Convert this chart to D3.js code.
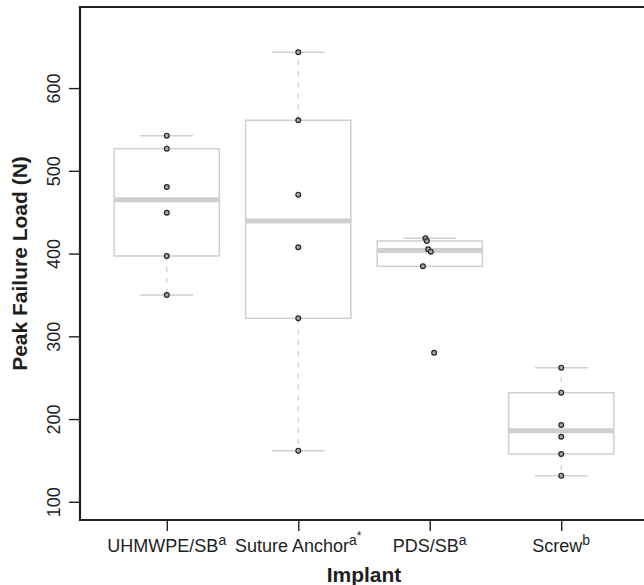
<!DOCTYPE html>
<html>
<head>
<meta charset="utf-8">
<script src="https://cdn.jsdelivr.net/npm/d3@7"></script>
<style>
  html, body { margin: 0; padding: 0; background: #fff; }
  svg { display: block; }
  text { font-family: "Liberation Sans", Arial, Helvetica, sans-serif; fill: #1e1e1e; }
</style>
</head>
<body>
<svg id="chart" width="644" height="585"></svg>
<script>
// ---- data ----
const categories   = ["UHMWPE/SB", "Suture Anchor", "PDS/SB", "Screw"];
const supLetters   = ["a", "a", "a", "b"];
const supMarks     = ["", "*", "", ""];
const uhmwpeValues = [542.5, 526.8, 480.5, 449.4, 397.1, 349.9];
const sutureValues = [643.3, 561.1, 471.2, 407.6, 321.8, 161.8];
const pdsValues    = [418.5, 415.2, 405.2, 402.3, 384.6, 280.2];
const screwValues  = [262.1, 231.9, 192.8, 178.7, 157.8, 131.6];
// horizontal jitter of the points, in category units
const uhmwpeJitter = [0, 0, 0, 0, 0, 0];
const sutureJitter = [0, 0, 0, 0, 0, 0];
const pdsJitter    = [-0.033, -0.022, -0.012, 0.008, -0.052, 0.033];
const screwJitter  = [0, 0, 0, 0, 0, 0];
const yTicks       = [100, 200, 300, 400, 500, 600];
const yLimits      = [78, 698];
const xLimits      = [0.34, 4.66];
const xTitle = "Implant";
const yTitle = "Peak Failure Load (N)";

const groups = [
  { values: uhmwpeValues, jitter: uhmwpeJitter },
  { values: sutureValues, jitter: sutureJitter },
  { values: pdsValues,    jitter: pdsJitter },
  { values: screwValues,  jitter: screwJitter }
];

// R-style fivenum and boxplot stats
function fivenum(arr) {
  const s = arr.slice().sort((a, b) => a - b);
  const n = s.length;
  const n4 = Math.floor((n + 3) / 2) / 2;
  const d = [1, n4, (n + 1) / 2, n + 1 - n4, n];
  return d.map(v => 0.5 * (s[Math.floor(v) - 1] + s[Math.ceil(v) - 1]));
}
function boxStats(arr) {
  const f = fivenum(arr);
  const iqr = f[3] - f[1];
  const lo = f[1] - 1.5 * iqr, hi = f[3] + 1.5 * iqr;
  const inside = arr.filter(v => v >= lo && v <= hi);
  return { q1: f[1], med: f[2], q3: f[3], wlo: d3.min(inside), whi: d3.max(inside) };
}

// ---- layout ----
const svg = d3.select("#chart");
const plotLeft = 80, plotRight = 648, plotTop = 7, plotBottom = 520;

const x = d3.scaleLinear().domain(xLimits).range([plotLeft, plotRight]);
const y = d3.scaleLinear().domain(yLimits).range([plotBottom, plotTop]);

const boxHalf = 0.4, capHalf = 0.2;
const grey = "#cfcfcf";

const g = svg.append("g");

groups.forEach((grp, i) => {
  const c = i + 1;
  const st = boxStats(grp.values);
  // whiskers (dashed)
  g.append("line")
    .attr("x1", x(c)).attr("x2", x(c))
    .attr("y1", y(st.q3)).attr("y2", y(st.whi))
    .attr("stroke", grey).attr("stroke-width", 1.3).attr("stroke-dasharray", "5,6");
  g.append("line")
    .attr("x1", x(c)).attr("x2", x(c))
    .attr("y1", y(st.q1)).attr("y2", y(st.wlo))
    .attr("stroke", grey).attr("stroke-width", 1.3).attr("stroke-dasharray", "5,6");
  // caps
  [st.whi, st.wlo].forEach(v => {
    g.append("line")
      .attr("x1", x(c - capHalf)).attr("x2", x(c + capHalf))
      .attr("y1", y(v)).attr("y2", y(v))
      .attr("stroke", grey).attr("stroke-width", 1.5);
  });
  // box
  g.append("rect")
    .attr("x", x(c - boxHalf)).attr("width", x(c + boxHalf) - x(c - boxHalf))
    .attr("y", y(st.q3)).attr("height", y(st.q1) - y(st.q3))
    .attr("fill", "#fff").attr("stroke", grey).attr("stroke-width", 1.5);
  // median
  g.append("line")
    .attr("x1", x(c - boxHalf)).attr("x2", x(c + boxHalf))
    .attr("y1", y(st.med)).attr("y2", y(st.med))
    .attr("stroke", grey).attr("stroke-width", 5);
});

// points
groups.forEach((grp, i) => {
  const c = i + 1;
  g.selectAll(null)
    .data(grp.values.map((v, k) => ({ v, j: grp.jitter[k] })))
    .enter().append("circle")
    .attr("cx", d => x(c + d.j))
    .attr("cy", d => y(d.v))
    .attr("r", 2.4)
    .attr("fill", "#a8a8a8")
    .attr("stroke", "#262626")
    .attr("stroke-width", 1.2);
});

// frame (left, bottom, top)
const frame = svg.append("g").attr("stroke", "#222").attr("stroke-width", 2.2).attr("stroke-linecap", "square");
frame.append("line").attr("x1", plotLeft).attr("x2", plotLeft).attr("y1", plotTop).attr("y2", plotBottom);
frame.append("line").attr("x1", plotLeft).attr("x2", plotRight).attr("y1", plotBottom).attr("y2", plotBottom);
frame.append("line").attr("x1", plotLeft).attr("x2", plotRight).attr("y1", plotTop).attr("y2", plotTop);

// y axis
const yAxis = d3.axisLeft(y).tickValues(yTicks).tickSize(11).tickFormat(d3.format("d"));
const ya = svg.append("g").attr("transform", `translate(${plotLeft},0)`).call(yAxis);
ya.select(".domain").remove();
ya.selectAll(".tick line").attr("stroke", "#222").attr("stroke-width", 1.4);
ya.selectAll(".tick text")
  .attr("x", null).attr("dy", null)
  .attr("text-anchor", "middle")
  .attr("transform", `translate(${60 - plotLeft},0) rotate(-90)`)
  .attr("y", 0)
  .style("font-size", "18px")
  .style("font-family", "'Liberation Sans', Arial, sans-serif")
  .attr("fill", "#1e1e1e");

// x axis
const xAxis = d3.axisBottom(x).tickValues([1, 2, 3, 4]).tickSize(11).tickFormat("");
const xa = svg.append("g").attr("transform", `translate(0,${plotBottom})`).call(xAxis);
xa.select(".domain").remove();
xa.selectAll(".tick line").attr("stroke", "#222").attr("stroke-width", 1.4);

categories.forEach((name, i) => {
  const t = svg.append("text")
    .attr("x", x(i + 1)).attr("y", 552)
    .attr("text-anchor", "middle")
    .style("font-size", "18px");
  t.append("tspan").text(name);
  t.append("tspan").attr("dy", -7.5).style("font-size", "14px").text(supLetters[i]);
  if (supMarks[i]) {
    t.append("tspan").attr("dy", -5).style("font-size", "12px").text(supMarks[i]);
  }
});

// axis titles
svg.append("text")
  .attr("x", (plotLeft + plotRight) / 2).attr("y", 582)
  .attr("text-anchor", "middle")
  .style("font-size", "21px").style("font-weight", "bold")
  .text(xTitle);

svg.append("text")
  .attr("transform", `translate(27,${(plotTop + plotBottom) / 2}) rotate(-90)`)
  .attr("text-anchor", "middle")
  .style("font-size", "21px").style("font-weight", "bold")
  .text(yTitle);
</script>
</body>
</html>
